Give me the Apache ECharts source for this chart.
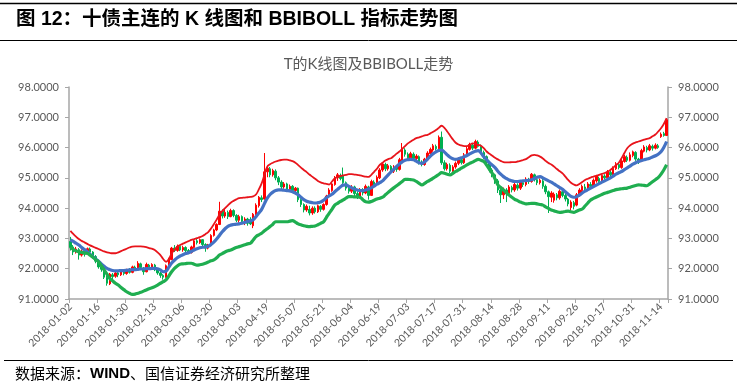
<!DOCTYPE html>
<html><head><meta charset="utf-8">
<script src="https://cdn.jsdelivr.net/npm/echarts/dist/echarts.min.js"></script>
<style>html,body{margin:0;padding:0;background:#fff}#c{width:737px;height:388px}</style>
</head><body><div id="c"></div>
<script>
// Trading days per month (2018)
const tradingDays = [
  ['01',[2,3,4,5,8,9,10,11,12,15,16,17,18,19,22,23,24,25,26,29,30,31]],
  ['02',[1,2,5,6,7,8,9,12,13,14,22,23,26,27,28]],
  ['03',[1,2,5,6,7,8,9,12,13,14,15,16,19,20,21,22,23,26,27,28,29,30]],
  ['04',[2,3,4,9,10,11,12,13,16,17,18,19,20,23,24,25,26,27]],
  ['05',[2,3,4,7,8,9,10,11,14,15,16,17,18,21,22,23,24,25,28,29,30,31]],
  ['06',[1,4,5,6,7,8,11,12,13,14,15,19,20,21,22,25,26,27,28,29]],
  ['07',[2,3,4,5,6,9,10,11,12,13,16,17,18,19,20,23,24,25,26,27,30,31]],
  ['08',[1,2,3,6,7,8,9,10,13,14,15,16,17,20,21,22,23,24,27,28,29,30,31]],
  ['09',[3,4,5,6,7,10,11,12,13,14,17,18,19,20,21,25,26,27,28]],
  ['10',[8,9,10,11,12,15,16,17,18,19,22,23,24,25,26,29,30,31]],
  ['11',[1,2,5,6,7,8,9,12,13,14,15,16]]
];
// [open, close, low, high]
const kline = [
[92.90,92.70,92.60,93.05],[92.72,92.55,92.45,92.78],[92.55,92.65,92.50,92.72],[92.63,92.45,92.30,92.68],[92.45,92.58,92.40,92.64],
[92.58,92.48,92.40,92.62],[92.48,92.66,92.45,92.70],[92.65,92.55,92.50,92.70],[92.55,92.40,92.35,92.58],[92.40,92.25,92.18,92.45],
[92.25,92.06,92.00,92.30],[92.06,91.98,91.90,92.12],[91.98,91.72,91.66,92.02],[91.72,91.52,91.44,91.76],[91.50,91.82,91.46,91.86],
[91.80,91.74,91.66,91.86],[91.75,91.86,91.70,91.90],[91.86,91.80,91.72,91.92],[91.80,91.94,91.76,91.98],[91.92,91.84,91.78,91.96],
[91.84,91.96,91.80,92.00],[91.96,91.88,91.84,92.02],
[91.88,92.06,91.85,92.10],[92.05,91.98,91.92,92.10],[91.96,92.18,91.94,92.25],[92.16,92.04,91.98,92.20],[92.02,91.90,91.80,92.05],
[91.90,92.14,91.88,92.20],[92.12,92.06,92.00,92.16],[92.05,92.14,92.02,92.18],[92.12,91.96,91.92,92.16],[91.96,91.86,91.80,92.00],
[91.86,91.78,91.70,91.90],[91.78,91.72,91.64,91.82],[91.72,92.10,91.70,92.14],[92.10,92.32,92.08,92.36],[92.30,92.68,92.28,92.72],
[92.68,92.60,92.55,92.78],[92.60,92.74,92.56,92.80],[92.74,92.62,92.58,92.78],[92.62,92.70,92.56,92.76],[92.70,92.60,92.55,92.74],
[92.60,92.54,92.48,92.65],[92.54,92.72,92.50,92.76],[92.70,92.92,92.66,92.96],[92.92,92.86,92.80,92.98],[92.86,92.96,92.82,93.00],
[92.96,92.80,92.74,92.98],[92.80,92.68,92.56,92.84],[92.68,92.78,92.64,92.82],[92.78,93.10,92.76,93.14],[93.10,93.28,93.06,93.32],
[93.28,93.46,93.24,93.50],[93.46,93.90,93.44,94.21],[93.90,93.74,93.66,93.96],[93.74,93.86,93.68,93.98],[93.86,93.72,93.64,93.92],
[93.72,93.92,93.70,93.98],[93.92,93.76,93.70,93.96],
[93.76,93.60,93.54,93.80],[93.60,93.72,93.52,93.78],[93.72,93.56,93.48,93.76],[93.56,93.64,93.44,93.70],[93.64,93.50,93.42,93.68],
[93.62,93.48,93.44,93.70],[93.42,93.80,93.34,93.84],[93.80,94.10,93.76,94.16],[94.08,94.36,94.02,94.40],[94.34,94.28,94.20,94.42],
[94.30,95.20,94.28,95.82],[95.20,95.32,95.02,95.40],[95.30,95.10,95.02,95.36],[95.10,95.24,95.04,95.30],[95.22,95.00,94.92,95.28],
[95.00,94.86,94.76,95.06],[94.86,94.70,94.62,94.92],[94.70,94.80,94.64,94.86],
[94.80,94.62,94.56,94.84],[94.62,94.72,94.54,94.78],[94.72,94.58,94.50,94.76],[94.58,94.66,94.46,94.70],[94.66,94.28,94.20,94.68],
[94.28,94.12,94.04,94.32],[94.12,93.94,93.86,94.16],[93.94,94.06,93.88,94.12],[93.96,93.84,93.76,94.08],[93.84,94.00,93.78,94.06],
[94.00,93.88,93.82,94.06],[93.88,94.08,93.84,94.12],[94.06,93.96,93.88,94.10],[93.96,94.12,93.92,94.16],[94.12,94.40,94.08,94.44],
[94.40,94.60,94.36,94.66],[94.58,94.80,94.54,94.86],[94.78,95.00,94.74,95.06],[95.00,95.10,94.90,95.16],[95.08,94.98,94.92,95.14],
[95.06,94.84,94.80,95.34],[94.84,94.66,94.58,94.88],
[94.66,94.56,94.48,94.72],[94.56,94.70,94.50,94.76],[94.70,94.48,94.40,94.74],[94.48,94.38,94.30,94.56],[94.38,94.62,94.32,94.66],
[94.60,94.50,94.42,94.66],[94.50,94.72,94.46,94.78],[94.70,94.42,94.28,94.74],[94.42,94.88,94.40,94.94],[94.86,94.78,94.70,94.92],
[94.78,95.02,94.74,95.08],[95.00,95.26,94.96,95.32],[95.26,95.46,95.20,95.52],[95.44,95.30,95.22,95.50],[95.30,95.40,95.24,95.46],
[95.38,95.22,95.14,95.42],[95.22,95.36,95.16,95.42],[95.36,95.28,95.20,95.40],[95.28,95.60,95.24,95.66],[95.58,95.94,95.54,96.15],
[95.92,95.78,95.70,95.98],[95.78,95.66,95.60,95.84],[95.66,95.80,95.62,95.86],[95.78,95.64,95.58,95.84],[95.64,95.72,95.58,95.78],
[95.70,95.52,95.44,95.74],[95.52,95.44,95.38,95.58],[95.44,95.62,95.40,95.66],[95.60,95.82,95.56,95.88],[95.80,95.94,95.74,96.00],
[95.92,96.06,95.86,96.12],[96.04,95.96,95.90,96.10],[95.96,96.34,95.92,96.40],[96.34,95.50,95.43,96.53],[95.50,95.30,95.24,95.58],
[95.30,95.44,95.24,95.50],[95.42,95.22,95.16,95.48],[95.22,95.36,95.18,95.42],[95.36,95.48,95.30,95.54],[95.48,95.62,95.42,95.68],
[95.60,95.50,95.44,95.66],[95.50,95.76,95.46,95.82],
[95.74,95.96,95.70,96.02],[95.94,96.10,95.90,96.16],[96.08,95.98,95.92,96.12],[95.98,96.20,95.94,96.26],[96.18,96.04,96.00,96.24],
[96.04,95.84,95.78,96.10],[95.84,95.70,95.62,95.90],[95.70,95.50,95.42,95.74],[95.50,95.26,95.18,95.56],[95.26,95.10,95.02,95.32],
[95.10,94.90,94.80,95.14],[94.90,94.60,94.50,94.96],[94.60,94.44,94.17,94.66],[94.44,94.62,94.30,94.68],[94.60,94.48,94.20,94.66],
[94.48,94.70,94.42,94.76],[94.68,94.60,94.52,94.74],[94.60,94.78,94.54,94.84],[94.76,94.66,94.58,94.82],[94.66,94.86,94.60,94.90],
[94.84,94.78,94.70,94.92],[94.78,94.96,94.72,95.02],[94.94,94.88,94.80,95.00],
[94.88,95.12,94.84,95.16],[95.10,94.94,94.88,95.14],[94.94,94.84,94.76,95.00],[94.84,94.92,94.78,94.98],[94.90,94.72,94.64,94.96],
[94.72,94.54,94.46,94.78],[94.54,94.38,93.84,94.58],[94.36,94.50,94.20,94.56],[94.26,94.46,94.18,94.52],[94.44,94.34,94.26,94.50],
[94.34,94.56,94.28,94.62],[94.54,94.42,94.36,94.62],[94.42,94.30,94.22,94.48],[94.30,94.14,94.06,94.34],[94.02,94.20,93.92,94.26],
[94.18,94.06,93.96,94.24],[94.10,94.44,94.06,94.50],[94.42,94.60,94.38,94.66],[94.58,94.72,94.52,94.78],
[94.70,94.64,94.56,94.80],[94.62,94.80,94.58,94.86],[94.78,94.72,94.66,94.86],[94.72,94.92,94.68,94.98],[94.90,95.06,94.84,95.10],
[94.98,94.88,94.80,95.04],[94.88,95.08,94.84,95.12],[95.06,95.00,94.94,95.12],[95.00,95.20,94.96,95.26],[95.18,95.10,95.02,95.24],
[95.10,95.32,95.06,95.38],[95.30,95.46,95.26,95.52],[95.44,95.34,95.28,95.50],[95.34,95.56,95.30,95.62],[95.54,95.70,95.50,95.76],
[95.68,95.58,95.52,95.74],[95.58,95.76,95.54,95.84],[95.74,95.86,95.68,95.90],
[95.84,95.62,95.56,95.88],[95.62,95.52,95.46,95.66],[95.56,95.90,95.52,95.96],[95.88,96.02,95.84,96.08],[96.00,95.92,95.84,96.06],
[95.92,96.06,95.88,96.12],[96.04,95.98,95.90,96.10],[95.98,96.08,95.94,96.14],[96.06,96.00,95.96,96.12],[96.36,96.44,96.32,96.50],
[96.46,96.40,96.36,96.52],[96.40,96.92,96.38,96.96]
];
const upper = [
93.25,93.15,93.06,92.98,92.92,92.87,92.82,92.77,92.73,92.69,92.65,92.61,92.57,92.54,92.52,92.51,92.51,92.54,92.58,92.62,
92.66,92.70,92.73,92.74,92.74,92.74,92.73,92.71,92.68,92.66,92.62,92.54,92.45,92.32,92.23,92.32,92.50,92.62,92.73,92.78,
92.83,92.87,92.91,92.95,92.98,93.01,93.04,93.08,93.14,93.21,93.33,93.47,93.62,93.78,93.90,94.00,94.09,94.18,94.24,94.29,
94.33,94.34,94.35,94.36,94.37,94.39,94.45,94.62,94.82,95.10,95.37,95.45,95.50,95.54,95.57,95.59,95.60,95.60,95.58,95.55,
95.50,95.42,95.34,95.26,95.19,95.11,95.04,94.97,94.90,94.85,94.82,94.80,94.78,94.88,94.98,95.03,95.06,95.08,95.10,95.12,
95.12,95.11,95.10,95.08,95.06,95.04,95.03,95.10,95.20,95.30,95.43,95.50,95.57,95.62,95.65,95.72,95.80,95.87,95.96,96.05,
96.14,96.20,96.26,96.31,96.34,96.37,96.40,96.42,96.47,96.52,96.58,96.65,96.72,96.65,96.53,96.40,96.27,96.16,96.10,96.07,
96.05,96.05,96.09,96.14,96.12,96.09,96.06,95.98,95.87,95.80,95.73,95.66,95.61,95.56,95.52,95.51,95.51,95.52,95.52,95.54,
95.56,95.59,95.62,95.68,95.74,95.76,95.74,95.70,95.64,95.56,95.49,95.44,95.37,95.29,95.22,95.15,95.04,94.93,94.84,94.78,
94.75,94.80,94.86,94.93,94.97,95.01,95.04,95.07,95.10,95.13,95.16,95.20,95.26,95.34,95.42,95.50,95.65,95.82,95.98,96.07,
96.13,96.17,96.20,96.23,96.26,96.29,96.31,96.37,96.43,96.53,96.64,96.78,96.97
];
const mid = [
92.95,92.90,92.84,92.78,92.70,92.63,92.56,92.48,92.40,92.32,92.25,92.16,92.08,92.01,91.97,91.94,91.93,91.93,91.94,91.94,
91.95,91.96,91.97,91.97,91.98,91.99,91.99,92.00,92.00,92.01,92.01,92.00,91.96,91.90,91.92,92.05,92.19,92.28,92.36,92.42,
92.46,92.50,92.53,92.57,92.62,92.66,92.69,92.71,92.72,92.74,92.80,92.88,92.98,93.10,93.22,93.32,93.40,93.44,93.46,93.47,
93.48,93.50,93.53,93.56,93.58,93.62,93.72,93.84,93.96,94.15,94.33,94.45,94.53,94.58,94.60,94.60,94.59,94.58,94.57,94.54,
94.50,94.44,94.36,94.28,94.23,94.20,94.18,94.17,94.18,94.20,94.26,94.34,94.40,94.46,94.54,94.62,94.70,94.76,94.77,94.72,
94.67,94.63,94.60,94.58,94.58,94.60,94.63,94.67,94.73,94.79,94.84,94.90,95.00,95.10,95.20,95.29,95.38,95.46,95.53,95.58,
95.60,95.61,95.60,95.55,95.50,95.48,95.53,95.62,95.72,95.80,95.86,95.90,95.92,95.85,95.76,95.68,95.63,95.61,95.63,95.66,
95.70,95.74,95.79,95.84,95.88,95.90,95.82,95.70,95.60,95.50,95.42,95.34,95.22,95.12,95.04,94.98,94.93,94.90,94.88,94.88,
94.89,94.90,94.91,94.92,94.94,94.98,95.02,95.04,95.00,94.95,94.90,94.86,94.80,94.74,94.68,94.62,94.54,94.46,94.39,94.36,
94.38,94.43,94.50,94.56,94.61,94.66,94.71,94.76,94.81,94.86,94.90,94.95,95.00,95.06,95.12,95.17,95.21,95.27,95.33,95.39,
95.45,95.50,95.54,95.57,95.60,95.62,95.65,95.69,95.73,95.78,95.86,96.00,96.20
];
const lower = [
92.70,92.64,92.59,92.56,92.54,92.52,92.51,92.45,92.38,92.30,92.23,92.10,91.96,91.82,91.68,91.60,91.52,91.46,91.38,91.31,
91.24,91.19,91.15,91.16,91.19,91.22,91.26,91.30,91.34,91.37,91.41,91.46,91.52,91.57,91.63,91.76,91.90,92.01,92.09,92.15,
92.16,92.17,92.18,92.18,92.15,92.12,92.13,92.15,92.18,92.22,92.26,92.29,92.36,92.45,92.50,92.55,92.59,92.62,92.66,92.70,
92.73,92.76,92.79,92.82,92.84,92.95,93.06,93.12,93.17,93.25,93.32,93.39,93.47,93.55,93.55,93.55,93.55,93.55,93.57,93.59,
93.54,93.48,93.45,93.42,93.40,93.39,93.40,93.41,93.45,93.50,93.55,93.69,93.83,93.96,94.10,94.16,94.22,94.27,94.33,94.38,
94.38,94.37,94.37,94.36,94.28,94.21,94.20,94.22,94.26,94.30,94.33,94.36,94.44,94.52,94.60,94.67,94.74,94.81,94.88,94.95,
94.95,94.94,94.93,94.88,94.82,94.77,94.82,94.88,94.93,94.99,95.05,95.11,95.17,95.15,95.12,95.10,95.15,95.21,95.26,95.32,
95.37,95.43,95.48,95.52,95.57,95.61,95.58,95.54,95.42,95.28,95.15,94.96,94.77,94.68,94.60,94.51,94.43,94.36,94.29,94.25,
94.20,94.17,94.14,94.15,94.16,94.16,94.14,94.12,94.10,94.04,93.99,93.94,93.91,93.88,93.86,93.87,93.89,93.90,93.88,93.86,
93.90,93.94,93.97,94.07,94.17,94.27,94.32,94.37,94.41,94.45,94.49,94.52,94.55,94.58,94.61,94.63,94.64,94.65,94.66,94.69,
94.72,94.75,94.77,94.76,94.75,94.74,94.80,94.87,94.94,95.01,95.12,95.26,95.43
];
const yTicks = {min: 91, max: 98, step: 1};

const categories = [];
tradingDays.forEach(([m, days]) => days.forEach(d => categories.push('2018-' + m + '-' + (d < 10 ? '0' + d : '' + d))));

const chart = echarts.init(document.getElementById('c'), null, {renderer: 'canvas'});
const axisGray = '#A6A6A6';
const labelGray = '#595959';
const yAxisCommon = {
  type: 'value', min: yTicks.min, max: yTicks.max, interval: yTicks.step,
  axisLine: {show: true, lineStyle: {color: axisGray, width: 1.5}},
  axisTick: {show: true, length: 4, lineStyle: {color: axisGray}},
  splitLine: {show: false},
  axisLabel: {color: labelGray, fontFamily: 'Lato', fontSize: 11, margin: 10,
    formatter: v => v.toFixed(4)}
};
chart.setOption({
  animation: false,
  backgroundColor: '#fff',
  title: {
    text: 'T的K线图及BBIBOLL走势', left: 'center', top: 52,
    textStyle: {color: labelGray, fontSize: 15, fontWeight: 'normal', fontFamily: 'Lato, "Noto Sans CJK SC"'}
  },
  grid: {left: 69, right: 69, top: 87, bottom: 89, containLabel: false, outerBoundsMode: 'none'},
  xAxis: {
    type: 'category', data: categories, boundaryGap: true,
    axisLine: {lineStyle: {color: axisGray, width: 1.5}},
    axisTick: {show: true, interval: 9, length: 4, lineStyle: {color: axisGray}},
    axisLabel: {interval: 9, rotate: 45, color: labelGray, fontFamily: 'Lato', fontSize: 10.5, margin: 6},
    splitLine: {show: false}
  },
  yAxis: [
    Object.assign({position: 'left'}, yAxisCommon),
    Object.assign({position: 'right'}, yAxisCommon)
  ],
  series: [
    {type: 'candlestick', data: kline, barWidth: 2,
      itemStyle: {color: '#FF0000', color0: '#00B050', borderColor: '#FF0000', borderColor0: '#00B050', borderWidth: 1}},
    {type: 'line', data: upper, symbol: 'none', smooth: 0.4, lineStyle: {color: '#E8141B', width: 1.8}, z: 3},
    {type: 'line', data: mid, symbol: 'none', smooth: 0.4, lineStyle: {color: '#4472C4', width: 3.2}, z: 3},
    {type: 'line', data: lower, symbol: 'none', smooth: 0.4, lineStyle: {color: '#1FAE50', width: 3.2}, z: 3}
  ],
  graphic: [
    {type: 'line', shape: {x1: 0, y1: 3.5, x2: 737, y2: 3.5}, style: {stroke: '#000', lineWidth: 1.5}},
    {type: 'text', left: 16, top: 10, style: {text: '图 12：十债主连的 K 线图和 BBIBOLL 指标走势图', fill: '#000',
      font: 'bold 19.5px "Liberation Sans", "Noto Sans CJK SC"'}},
    {type: 'line', shape: {x1: 0, y1: 40.5, x2: 737, y2: 40.5}, style: {stroke: '#000', lineWidth: 1}},
    {type: 'line', shape: {x1: 4, y1: 360.5, x2: 733, y2: 360.5}, style: {stroke: '#000', lineWidth: 1}},
    {type: 'text', left: 15, top: 366, style: {
      text: '{c|数据来源：}{b|WIND}{c|、国信证券经济研究所整理}',
      rich: {
        c: {fill: '#000', fontSize: 15, fontFamily: '"Noto Sans CJK SC"'},
        b: {fill: '#000', fontSize: 15, fontWeight: 'bold', fontFamily: '"Liberation Sans"'}
      }}}
  ]
});
</script>
</body></html>
